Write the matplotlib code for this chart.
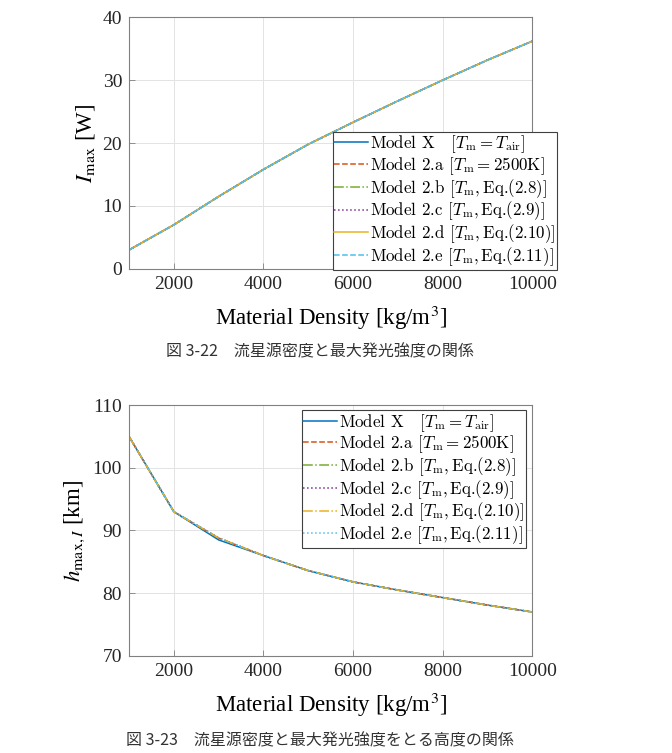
import matplotlib
matplotlib.use('Agg')
import matplotlib.pyplot as plt
from matplotlib.font_manager import FontProperties
import numpy as np

plt.rcParams.update({
    'font.family': ['Liberation Serif', 'DejaVu Serif'],
    'mathtext.fontset': 'stix',
    'axes.edgecolor': '#808080',
    'axes.linewidth': 0.8,
    'xtick.direction': 'in',
    'ytick.direction': 'in',
    'xtick.color': '#808080',
    'ytick.color': '#808080',
    'xtick.labelcolor': '#262626',
    'ytick.labelcolor': '#262626',
})

density = [1000, 2000, 3000, 4000, 5000, 6000, 7000, 8000, 9000, 10000]

# max luminous intensity [W]
imax_x = [3.0, 7.0, 11.5, 15.8, 19.8, 23.3, 26.7, 30.0, 33.2, 36.2]
imax_2a = [3.0, 7.0, 11.5, 15.8, 19.8, 23.3, 26.7, 30.0, 33.2, 36.2]
imax_2b = [3.0, 7.0, 11.5, 15.8, 19.8, 23.3, 26.7, 30.0, 33.2, 36.2]
imax_2c = [3.0, 7.0, 11.5, 15.8, 19.8, 23.3, 26.7, 30.0, 33.2, 36.2]
imax_2d = [3.0, 7.0, 11.5, 15.8, 19.8, 23.3, 26.7, 30.0, 33.2, 36.2]
imax_2e = [3.0, 7.0, 11.5, 15.8, 19.8, 23.3, 26.7, 30.0, 33.2, 36.2]

# altitude of max intensity [km]
hmax_x = [105.0, 93.0, 88.5, 86.0, 83.6, 81.8, 80.5, 79.3, 78.1, 77.0]
hmax_2a = [105.0, 93.0, 88.8, 86.0, 83.6, 81.8, 80.5, 79.3, 78.1, 77.0]
hmax_2b = [105.0, 93.0, 88.8, 86.0, 83.6, 81.8, 80.5, 79.3, 78.1, 77.0]
hmax_2c = [105.0, 93.0, 88.8, 86.0, 83.6, 81.8, 80.5, 79.3, 78.1, 77.0]
hmax_2d = [105.0, 93.0, 88.8, 86.0, 83.6, 81.8, 80.5, 79.3, 78.1, 77.0]
hmax_2e = [105.0, 93.0, 88.8, 86.0, 83.6, 81.8, 80.5, 79.3, 78.1, 77.0]

labels = [
    r'Model X   [$T_\mathrm{m} = T_\mathrm{air}$]',
    r'Model 2.a [$T_\mathrm{m} = 2500$K]',
    r'Model 2.b [$T_\mathrm{m},$Eq.(2.8)]',
    r'Model 2.c [$T_\mathrm{m},$Eq.(2.9)]',
    r'Model 2.d [$T_\mathrm{m},$Eq.(2.10)]',
    r'Model 2.e [$T_\mathrm{m},$Eq.(2.11)]',
]
colors = ['#0072BD', '#D95319', '#77AC30', '#7E2F8E', '#EDB120', '#4DBEEE']
styles_top = ['-', '--', '-.', ':', '-', '--']
styles_bot = ['-', '--', '-.', ':', '-.', ':']

leg_font = FontProperties(family='cmr10', size=12.2, math_fontfamily='cm')


def style_axes(ax, ylim, yticks, ylabel):
    ax.set_xlim(1000, 10000)
    ax.set_ylim(*ylim)
    ax.set_xticks([2000, 4000, 6000, 8000, 10000])
    ax.set_yticks(yticks)
    ax.tick_params(labelsize=14, length=4, width=0.6, pad=5)
    ax.grid(True, color='#e3e3e3', linewidth=0.7)
    ax.set_axisbelow(True)
    ax.set_xlabel('Material Density [kg/m$^3$]', fontsize=16.5, labelpad=8)
    ax.set_ylabel(ylabel, fontsize=16.5, labelpad=4)


fig = plt.figure(figsize=(6.72, 7.53), dpi=100)
ax1 = fig.add_axes([0.192, 0.643, 0.600, 0.334])
ax2 = fig.add_axes([0.192, 0.129, 0.600, 0.333])

for y, c, ls, lab in zip([imax_x, imax_2a, imax_2b, imax_2c, imax_2d, imax_2e], colors, styles_top, labels):
    ax1.plot(density, y, color=c, linestyle=ls, linewidth=1.1, label=lab)
style_axes(ax1, (0, 40), [0, 10, 20, 30, 40], r'$I_\mathrm{max}$ [W]')
leg1 = ax1.legend(loc='lower left', bbox_to_anchor=(0.505, -0.003), prop=leg_font,
                  fancybox=False, framealpha=1, edgecolor='#404040', handlelength=2.0,
                  handletextpad=0.1, borderpad=0.1, labelspacing=0.0, borderaxespad=0)
leg1.get_frame().set_linewidth(0.8)

for y, c, ls, lab in zip([hmax_x, hmax_2a, hmax_2b, hmax_2c, hmax_2d, hmax_2e], colors, styles_bot, labels):
    ax2.plot(density, y, color=c, linestyle=ls, linewidth=1.1, label=lab)
style_axes(ax2, (70, 110), [70, 80, 90, 100, 110], r'$h_{\mathrm{max},I}$ [km]')
leg2 = ax2.legend(loc='upper left', bbox_to_anchor=(0.428, 0.98), prop=leg_font,
                  fancybox=False, framealpha=1, edgecolor='#404040', handlelength=2.0,
                  handletextpad=0.1, borderpad=0.1, labelspacing=0.0, borderaxespad=0)
leg2.get_frame().set_linewidth(0.8)

cap_font = ['Noto Sans CJK JP', 'DejaVu Sans']
fig.text(0.476, 0.532, '図 3-22\u3000流星源密度と最大発光強度の関係', ha='center', va='center',
         fontsize=11.5, family=cap_font, color='#333333')
fig.text(0.476, 0.016, '図 3-23\u3000流星源密度と最大発光強度をとる高度の関係', ha='center', va='center',
         fontsize=11.5, family=cap_font, color='#333333')

fig.savefig('out.png', dpi=100)
